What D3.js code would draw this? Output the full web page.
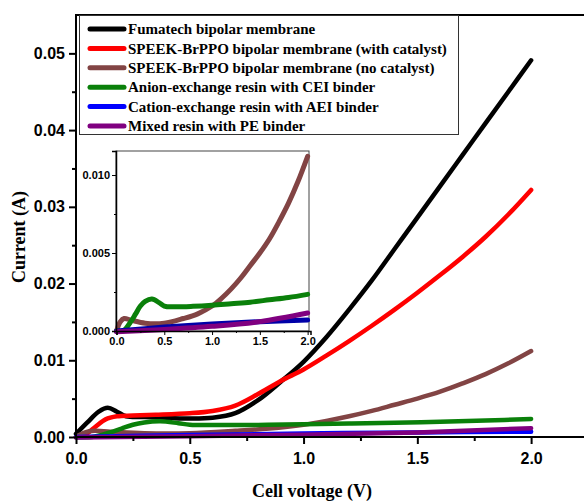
<!DOCTYPE html>
<html>
<head>
<meta charset="utf-8">
<script src="https://cdn.jsdelivr.net/npm/d3@7"></script>
<style>
  body { margin: 0; background: #fff; }
  svg { display: block; font-family: "Liberation Serif", "DejaVu Serif", serif; font-weight: bold; }
</style>
</head>
<body>
<div class="board"></div>
<script>
// series names and colours, legend order
var names = [
  'Fumatech bipolar membrane',
  'SPEEK-BrPPO bipolar membrane (with catalyst)',
  'SPEEK-BrPPO bipolar membrane (no catalyst)',
  'Anion-exchange resin with CEI binder',
  'Cation-exchange resin with AEI binder',
  'Mixed resin with PE binder'
];
var colors = ['#000000', '#ff0000', '#824444', '#0a800a', '#0000ff', '#800080'];

// voltage (V) / current (A)
var fumaV = [0, 0.05, 0.1, 0.14, 0.18, 0.22, 0.3, 0.4, 0.5, 0.6, 0.7, 0.8, 0.9, 1.0, 1.1, 1.2, 1.3, 1.4, 1.5, 1.6, 1.7, 1.8, 1.9, 2.0];
var fumaI = [0.0004, 0.0019, 0.0033, 0.0038, 0.0033, 0.0027, 0.0026, 0.0025, 0.0024, 0.0025, 0.0031, 0.0048, 0.0072, 0.0098, 0.0130, 0.0166, 0.0204, 0.0245, 0.0286, 0.0327, 0.0368, 0.0409, 0.0450, 0.0491];

var catV = [0, 0.03, 0.08, 0.13, 0.18, 0.25, 0.35, 0.5, 0.6, 0.7, 0.8, 0.9, 1.0, 1.1, 1.2, 1.3, 1.4, 1.5, 1.6, 1.7, 1.8, 1.9, 2.0];
var catI = [0, 0.0001, 0.0012, 0.0023, 0.0027, 0.0028, 0.0029, 0.0031, 0.0034, 0.0041, 0.0056, 0.0073, 0.0088, 0.0106, 0.0125, 0.0145, 0.0166, 0.0188, 0.0211, 0.0235, 0.0261, 0.0290, 0.0322];

var nocatV = [0, 0.04, 0.08, 0.15, 0.3, 0.5, 0.7, 0.85, 1.0, 1.1, 1.2, 1.3, 1.4, 1.5, 1.6, 1.7, 1.8, 1.9, 2.0];
var nocatI = [0, 0.0006, 0.0008, 0.0007, 0.0005, 0.0005, 0.0008, 0.0011, 0.0016, 0.0021, 0.0027, 0.0034, 0.0042, 0.0050, 0.0059, 0.0070, 0.0082, 0.0096, 0.0112];

var ceiV = [0, 0.07, 0.15, 0.2, 0.25, 0.3, 0.37, 0.45, 0.5, 0.6, 0.8, 1.0, 1.2, 1.4, 1.6, 1.8, 2.0];
var ceiI = [0, 0, 0.0006, 0.0011, 0.0016, 0.0019, 0.00205, 0.0018, 0.0016, 0.00155, 0.00158, 0.00165, 0.00175, 0.00185, 0.0020, 0.00215, 0.00235];

var aeiV = [0, 0.5, 1.0, 1.5, 2.0];
var aeiI = [0, 0.00025, 0.00045, 0.0006, 0.0007];

var peV = [0, 0.5, 1.0, 1.5, 2.0];
var peI = [-0.00005, 0.0001, 0.0003, 0.0006, 0.00115];

var mainXTicks = [0, 0.5, 1.0, 1.5, 2.0];
var mainYTicks = [0, 0.01, 0.02, 0.03, 0.04, 0.05];
var insetXTicks = [0, 0.5, 1.0, 1.5, 2.0];
var insetYTicks = [0, 0.005, 0.010];

var allV = [fumaV, catV, nocatV, ceiV, aeiV, peV];
var allI = [fumaI, catI, nocatI, ceiI, aeiI, peI];
var series = names.map(function (n, i) {
  return { name: n, color: colors[i], pts: allV[i].map(function (v, j) { return [v, allI[i][j]]; }) };
});

var W = 584, H = 501;
var svg = d3.select('.board').append('svg').attr('width', W).attr('height', H);

// main plot
var x = d3.scaleLinear().domain([0, 2.25]).range([76, 588]);
var y = d3.scaleLinear().domain([0, 0.055]).range([437, 15]);

var line = d3.line().curve(d3.curveCatmullRom.alpha(0.5))
  .x(function (d) { return x(d[0]); }).y(function (d) { return y(d[1]); });

svg.append('g').selectAll('path').data(series).enter().append('path')
  .attr('d', function (d) { return line(d.pts); })
  .attr('fill', 'none').attr('stroke', function (d) { return d.color; })
  .attr('stroke-width', 4.5).attr('stroke-linecap', 'round').attr('stroke-linejoin', 'round');

// minor ticks
svg.append('g').attr('transform', 'translate(0,437)')
  .call(d3.axisBottom(x).tickValues([0.25, 0.75, 1.25, 1.75, 2.25]).tickSize(4).tickFormat(''))
  .call(function (g) { g.select('.domain').remove(); g.selectAll('line').attr('stroke-width', 2); });
svg.append('g').attr('transform', 'translate(76,0)')
  .call(d3.axisLeft(y).tickValues([0.005, 0.015, 0.025, 0.035, 0.045]).tickSize(4).tickFormat(''))
  .call(function (g) { g.select('.domain').remove(); g.selectAll('line').attr('stroke-width', 2); });

var xAxis = svg.append('g').attr('transform', 'translate(0,437)')
  .call(d3.axisBottom(x).tickValues(mainXTicks).tickSize(7).tickPadding(9).tickFormat(d3.format('.1f')));
var yAxis = svg.append('g').attr('transform', 'translate(76,0)')
  .call(d3.axisLeft(y).tickValues(mainYTicks).tickSize(7).tickPadding(4).tickFormat(d3.format('.2f')));
[xAxis, yAxis].forEach(function (g) {
  g.select('.domain').remove();
  g.selectAll('line').attr('stroke-width', 2);
  g.selectAll('text').attr('font-size', 16).attr('font-family', null).attr('fill', '#000');
});

// frame lines
svg.append('line').attr('x1', 76).attr('x2', W).attr('y1', 437).attr('y2', 437).attr('stroke', '#000').attr('stroke-width', 2);
svg.append('line').attr('x1', 76).attr('x2', W).attr('y1', 15).attr('y2', 15).attr('stroke', '#000').attr('stroke-width', 2);
svg.append('line').attr('x1', 76).attr('x2', 76).attr('y1', 14).attr('y2', 438).attr('stroke', '#000').attr('stroke-width', 2);

svg.append('text').attr('x', 312).attr('y', 497).attr('text-anchor', 'middle')
  .attr('font-size', 18).text('Cell voltage (V)');
svg.append('text').attr('transform', 'translate(25,237) rotate(-90)').attr('text-anchor', 'middle')
  .attr('font-size', 18).text('Current (A)');

// legend
var lg = svg.append('g');
lg.append('rect').attr('x', 79.5).attr('y', 15.5).attr('width', 379).attr('height', 119)
  .attr('fill', '#fff').attr('stroke', '#333').attr('stroke-width', 1);
var rows = lg.selectAll('g.row').data(series).enter().append('g')
  .attr('transform', function (d, i) { return 'translate(0,' + (29 + i * 19.4) + ')'; });
rows.append('line').attr('x1', 90).attr('x2', 124).attr('stroke', function (d) { return d.color; })
  .attr('stroke-width', 5).attr('stroke-linecap', 'round');
rows.append('text').attr('x', 128).attr('dy', '0.35em').attr('font-size', 15).text(function (d) { return d.name; });

// inset
var ix = d3.scaleLinear().domain([0, 2.03]).range([116.5, 310.5]);
var iy = d3.scaleLinear().domain([0, 0.01154]).range([331, 151]);
var iline = d3.line().curve(d3.curveCatmullRom.alpha(0.5))
  .x(function (d) { return ix(d[0]); }).y(function (d) { return iy(d[1]); });

var ins = svg.append('g');
ins.append('rect').attr('x', 116).attr('y', 151).attr('width', 193).attr('height', 180)
  .attr('fill', '#fff').attr('stroke', '#444').attr('stroke-width', 1);
ins.append('g').selectAll('path').data(series.slice(2)).enter().append('path')
  .attr('d', function (d) { return iline(d.pts); })
  .attr('fill', 'none').attr('stroke', function (d) { return d.color === '#0000ff' ? '#0000a8' : d.color; })
  .attr('stroke-width', 5).attr('stroke-linecap', 'round');

ins.append('g').attr('transform', 'translate(0,331)')
  .call(d3.axisBottom(ix).tickValues([0.25, 0.75, 1.25, 1.75]).tickSize(2).tickFormat(''))
  .call(function (g) { g.select('.domain').remove(); });
ins.append('g').attr('transform', 'translate(116,0)')
  .call(d3.axisLeft(iy).tickValues([0.0025, 0.0075]).tickSize(2).tickFormat(''))
  .call(function (g) { g.select('.domain').remove(); });
var ixa = ins.append('g').attr('transform', 'translate(0,331)')
  .call(d3.axisBottom(ix).tickValues(insetXTicks).tickSize(4).tickPadding(2).tickFormat(d3.format('.1f')));
var iya = ins.append('g').attr('transform', 'translate(116,0)')
  .call(d3.axisLeft(iy).tickValues(insetYTicks).tickSize(4).tickPadding(2).tickFormat(d3.format('.3f')));
[ixa, iya].forEach(function (g) {
  g.select('.domain').attr('stroke-width', 1.5);
  g.selectAll('text').attr('font-size', 11).attr('font-family', null).attr('fill', '#000');
});
</script>
</body>
</html>
